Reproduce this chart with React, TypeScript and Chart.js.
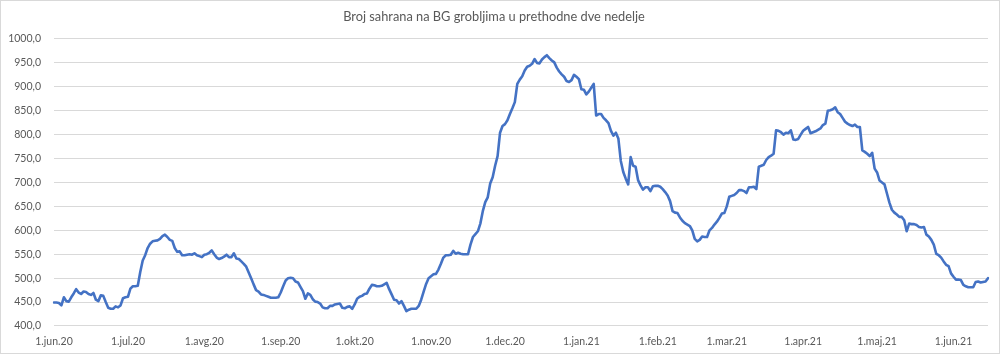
import React, { useEffect, useRef } from "react";
import { Chart, registerables } from "chart.js";

Chart.register(...registerables);

const TITLE = "Broj sahrana na BG grobljima u prethodne dve nedelje";

const monthLabels = [
  "1.jun.20", "1.jul.20", "1.avg.20", "1.sep.20", "1.okt.20", "1.nov.20", "1.dec.20",
  "1.jan.21", "1.feb.21", "1.mar.21", "1.apr.21", "1.maj.21", "1.jun.21",
];

const jun20 = [449, 449, 448, 443, 460, 452, 451, 460, 468, 477, 470, 467, 472, 471, 467, 465, 469, 455, 452, 464, 463, 450, 438, 436, 436, 441, 439, 443, 458, 460];
const jul20 = [461, 478, 483, 483, 484, 513, 537, 548, 563, 572, 577, 578, 579, 582, 588, 591, 586, 580, 578, 563, 555, 556, 548, 548, 549, 550, 549, 552, 548, 546, 544];
const avg20 = [549, 550, 553, 558, 550, 543, 540, 542, 545, 549, 544, 544, 552, 541, 540, 535, 530, 524, 512, 500, 487, 475, 472, 466, 465, 463, 461, 459, 459, 459, 460];
const sep20 = [470, 483, 495, 500, 501, 500, 493, 491, 482, 473, 457, 468, 465, 456, 451, 450, 447, 439, 437, 437, 442, 442, 445, 446, 447, 438, 437, 440, 441, 436];
const okt20 = [445, 457, 461, 463, 467, 468, 478, 486, 485, 483, 483, 484, 487, 490, 477, 466, 455, 454, 447, 452, 442, 431, 434, 436, 436, 436, 442, 455, 472, 488, 500];
const nov20 = [504, 508, 509, 518, 530, 543, 548, 548, 549, 557, 551, 553, 551, 550, 550, 550, 570, 586, 592, 598, 614, 640, 659, 669, 698, 711, 735, 755, 804, 818];
const dec20 = [822, 830, 843, 855, 868, 906, 915, 922, 934, 942, 944, 948, 958, 950, 949, 957, 962, 966, 960, 955, 951, 940, 932, 926, 921, 912, 910, 914, 925, 921, 916];
const jan21 = [895, 894, 884, 890, 898, 906, 840, 843, 843, 835, 830, 824, 808, 798, 804, 792, 745, 722, 708, 696, 753, 735, 733, 705, 694, 685, 690, 690, 682, 692, 693];
const feb21 = [693, 691, 686, 680, 673, 661, 640, 637, 636, 627, 620, 615, 612, 609, 600, 582, 577, 580, 587, 586, 586, 600, 605, 612, 618, 626, 635, 636];
const mar21 = [650, 670, 672, 674, 678, 684, 684, 682, 678, 690, 690, 691, 686, 733, 735, 737, 747, 753, 756, 760, 809, 808, 805, 800, 804, 803, 809, 790, 789, 791, 800];
const apr21 = [808, 812, 816, 803, 805, 807, 810, 813, 820, 823, 850, 851, 853, 857, 847, 843, 835, 827, 823, 820, 818, 821, 816, 816, 767, 764, 760, 755, 762, 729];
const maj21 = [721, 704, 700, 696, 677, 658, 643, 637, 633, 628, 628, 621, 598, 614, 613, 613, 611, 607, 606, 607, 591, 587, 580, 570, 551, 548, 543, 535, 528, 525, 510];
const jun21 = [503, 497, 497, 496, 486, 483, 481, 481, 481, 492, 493, 491, 492, 493, 500];

const months = [jun20, jul20, avg20, sep20, okt20, nov20, dec20, jan21, feb21, mar21, apr21, maj21, jun21];

const FONT = "Lato, 'Open Sans', sans-serif";
const TEXT = "#595959";

const borderPlugin = {
  id: "outerBorder",
  afterDraw(chart: any) {
    const ctx = chart.ctx;
    ctx.save();
    ctx.strokeStyle = "#D9D9D9";
    ctx.lineWidth = 1;
    ctx.strokeRect(0.5, 0.5, chart.width - 1, chart.height - 1);
    ctx.restore();
  },
};

export default function App() {
  const ref = useRef<HTMLCanvasElement | null>(null);

  useEffect(() => {
    document.body.style.margin = "0";
    const labels: string[] = [];
    const values: number[] = [];
    months.forEach((m, i) => {
      m.forEach((v, d) => {
        labels.push(d === 0 ? monthLabels[i] : "");
        values.push(v);
      });
    });

    const chart = new Chart(ref.current as HTMLCanvasElement, {
      type: "line",
      data: {
        labels,
        datasets: [
          {
            data: values,
            borderColor: "#4472C4",
            borderWidth: 2.6,
            pointRadius: 0,
            tension: 0,
            fill: false,
            borderJoinStyle: "round",
            borderCapStyle: "round",
          },
        ],
      },
      options: {
        animation: false,
        responsive: false,
        devicePixelRatio: 1,
        layout: { padding: { left: 0, right: 12, top: 0, bottom: 0 } },
        plugins: {
          legend: { display: false },
          tooltip: { enabled: false },
          title: {
            display: true,
            text: TITLE,
            color: TEXT,
            font: { family: FONT, size: 12.8, weight: "normal" },
            padding: { top: 9.5, bottom: 14.1 },
          },
        },
        scales: {
          x: {
            type: "category",
            offset: false,
            grid: { display: false },
            border: { display: false },
            ticks: {
              autoSkip: false,
              maxRotation: 0,
              minRotation: 0,
              padding: 1,
              color: TEXT,
              font: { family: FONT, size: 10.5 },
              callback: function (this: any, value: any) {
                const l = this.getLabelForValue(value);
                return l ? l : null;
              },
            },
            afterFit(scale: any) {
              scale.height = 28;
            },
          },
          y: {
            min: 400,
            max: 1000,
            grid: { color: "#D9D9D9", lineWidth: 1, drawTicks: false },
            border: { display: false },
            ticks: {
              stepSize: 50,
              padding: 13,
              color: TEXT,
              font: { family: FONT, size: 10.5 },
              callback: (v: any) => Number(v).toFixed(1).replace(".", ","),
            },
            afterFit(scale: any) {
              scale.width = 54;
            },
          },
        },
      },
      plugins: [borderPlugin],
    });
    return () => chart.destroy();
  }, []);

  return (
    <div style={{ position: "absolute", left: 0, top: 0, width: 1000, height: 354 }}>
      <canvas ref={ref} width={1000} height={354} />
    </div>
  );
}
